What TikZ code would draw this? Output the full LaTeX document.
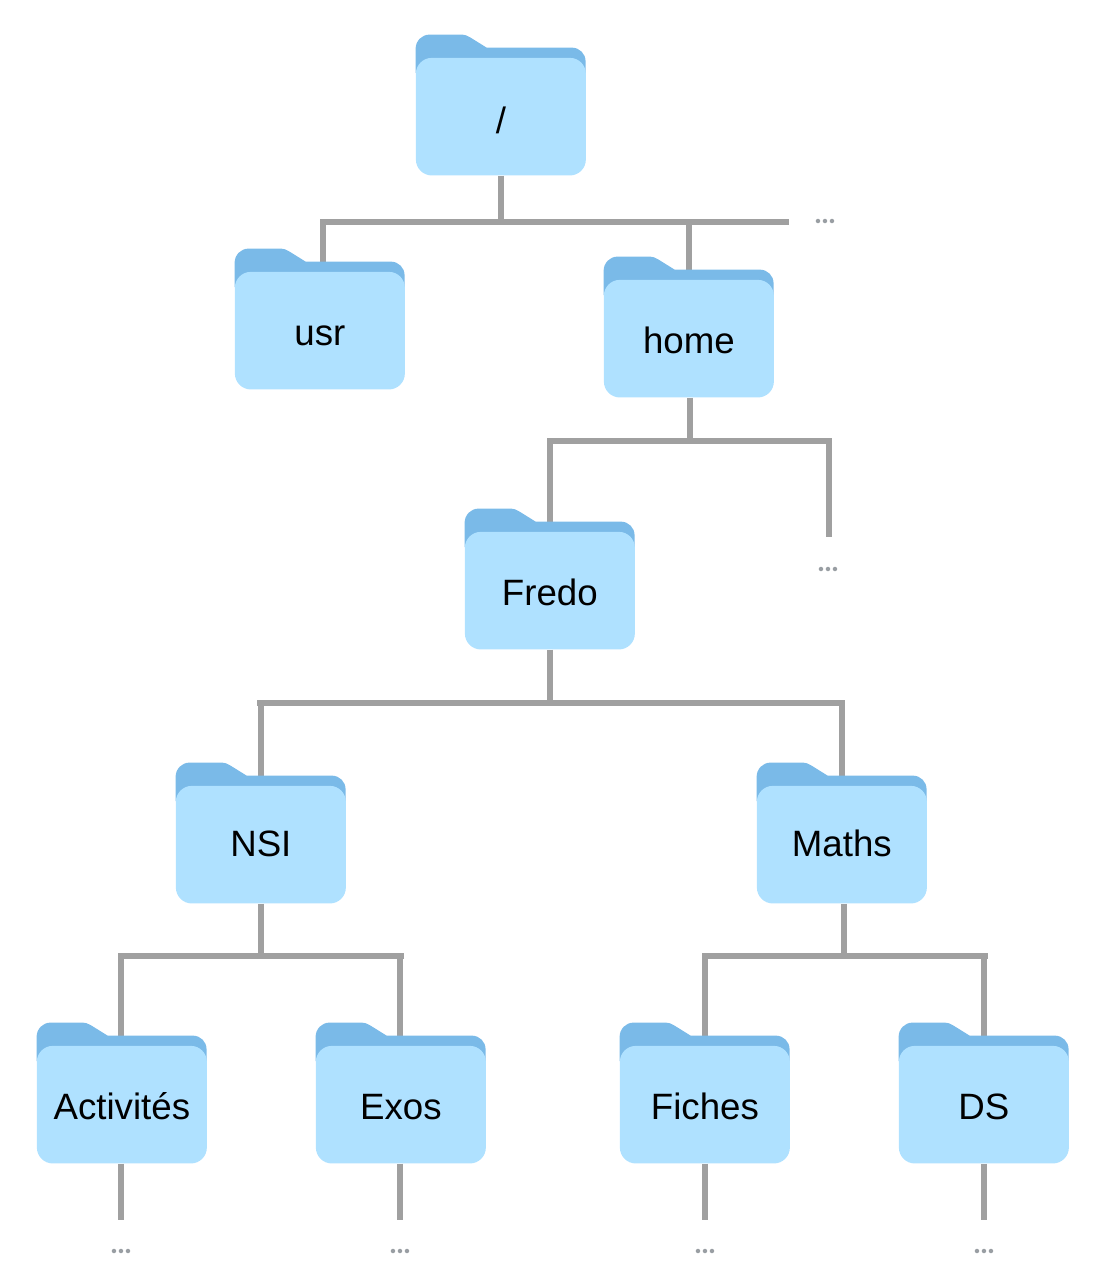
\documentclass[tikz,border=0pt]{standalone}
\usepackage{fontspec}
\setmainfont{Liberation Sans}
\newfontfamily\dotsfont{Lato}[BoldFont={* Bold}]
\usetikzlibrary{backgrounds}
\definecolor{panelblue}{HTML}{AFE1FF}
\definecolor{backblue}{HTML}{7ABAE8}
\definecolor{linegray}{HTML}{A0A0A0}
\definecolor{dotgray}{HTML}{999EA3}
\tikzset{
  panel/.style={fill=panelblue,rounded corners=12pt,anchor=north west,inner sep=0pt,
    minimum width=127.5pt,text height=55.5pt,text depth=32.7pt,
    font=\fontsize{27.5pt}{30pt}\selectfont,text=black},
  backshape/.style={fill=backblue},
  link/.style={draw=linegray,line width=4.5pt},
  elide/.style={font=\dotsfont\bfseries\fontsize{22pt}{24pt}\selectfont,text=dotgray,inner sep=0pt}
}
\newcommand{\folder}[4]{%
  \path[backshape] (#2+5,#3+38) -- (#2-.4,#3+38) -- (#2-.4,#3+14)
    .. controls (#2-.4,#3+6) and (#2+5.6,#3-.4) .. (#2+13.6,#3-.4)
    -- (#2+44,#3-.4) .. controls (#2+48.5,#3-.4) and (#2+51.5,#3+.4) .. (#2+54.5,#3+2.6)
    -- (#2+70.6,#3+12.6) -- (#2+155.6,#3+12.6)
    .. controls (#2+163.6,#3+12.6) and (#2+169.6,#3+18.6) .. (#2+169.6,#3+26.6)
    -- (#2+169.6,#3+38) -- (#2+165,#3+38) -- cycle;
  \node[panel] (#1) at (#2-.4,#3+22.6) {#4};
}
\begin{document}
\begin{tikzpicture}[x=.75pt,y=-.75pt]
\useasboundingbox (0,0) rectangle (1094,1280);
\folder{root}{416}{35}{\raisebox{-1.2pt}{/}}
\folder{usr}{235}{249}{usr}
\folder{home}{604}{257}{home}
\folder{fredo}{465}{509}{Fredo}
\folder{nsi}{176}{763}{\raisebox{2.2pt}{NSI}}
\folder{maths}{757}{763}{\raisebox{2.2pt}{Maths}}
\folder{activites}{37}{1023}{Activités}
\folder{exos}{316}{1023}{Exos}
\folder{fiches}{620}{1023}{Fiches}
\folder{ds}{899}{1023}{DS}
% free ends and junctions
\coordinate (aL) at (320,222); \coordinate (aR) at (789,222);
\coordinate (aS) at (501,222); \coordinate (aU) at (323,222); \coordinate (aH) at (689,222);
\coordinate (bL) at (547,441); \coordinate (bR) at (832,441);
\coordinate (bS) at (689.5,441); \coordinate (bF) at (550,441); \coordinate (bE) at (829,441);
\coordinate (bEnd) at (829,537);
\coordinate (cL) at (257,703); \coordinate (cR) at (845,703);
\coordinate (cS) at (550,703); \coordinate (cN) at (261,703); \coordinate (cM) at (842,703);
\coordinate (dL) at (118,956); \coordinate (dR) at (404,956);
\coordinate (dS) at (261,956); \coordinate (dA) at (121,956); \coordinate (dE) at (400,956);
\coordinate (eL) at (702,956); \coordinate (eR) at (988,956);
\coordinate (eS) at (844,956); \coordinate (eF) at (705,956); \coordinate (eD) at (984,956);
\coordinate (endA) at (121,1220); \coordinate (endE) at (400,1220);
\coordinate (endF) at (705,1220); \coordinate (endD) at (984,1220);
\node[elide] (more1) at (825,221) {...};
\node[elide] (more2) at (828,569) {...};
\node[elide] (more3) at (121,1251) {...};
\node[elide] (more4) at (400,1251) {...};
\node[elide] (more5) at (705,1251) {...};
\node[elide] (more6) at (984,1251) {...};
\begin{scope}[on background layer]
\draw[link] (aL) -- (aR);
\draw[link] (aS |- root.south) -- (aS);
\draw[link] (aU) -- (aU |- usr.north);
\draw[link] (aH) -- (aH |- home.north);
\draw[link] (bL) -- (bR);
\draw[link] (bS |- home.south) -- (bS);
\draw[link] (bF) -- (bF |- fredo.north);
\draw[link] (bE) -- (bEnd);
\draw[link] (cL) -- (cR);
\draw[link] (cS |- fredo.south) -- (cS);
\draw[link] (cN) -- (cN |- nsi.north);
\draw[link] (cM) -- (cM |- maths.north);
\draw[link] (dL) -- (dR);
\draw[link] (dS |- nsi.south) -- (dS);
\draw[link] (dA) -- (dA |- activites.north);
\draw[link] (dE) -- (dE |- exos.north);
\draw[link] (eL) -- (eR);
\draw[link] (eS |- maths.south) -- (eS);
\draw[link] (eF) -- (eF |- fiches.north);
\draw[link] (eD) -- (eD |- ds.north);
\draw[link] (endA |- activites.south) -- (endA);
\draw[link] (endE |- exos.south) -- (endE);
\draw[link] (endF |- fiches.south) -- (endF);
\draw[link] (endD |- ds.south) -- (endD);
\end{scope}
\end{tikzpicture}
\end{document}
